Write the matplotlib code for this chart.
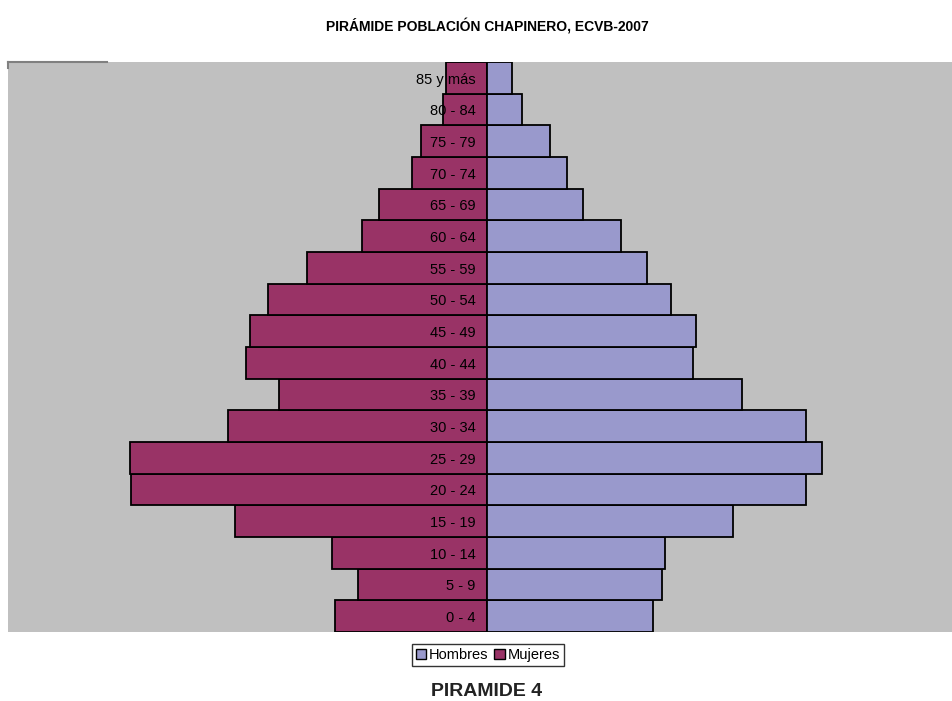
import numpy as np
import matplotlib.pyplot as plt
from matplotlib.patches import Patch

plt.rcParams['font.family'] = ['Liberation Sans', 'DejaVu Sans']

# Age groups, bottom to top
grupos = ['0 - 4', '5 - 9', '10 - 14', '15 - 19', '20 - 24', '25 - 29', '30 - 34',
          '35 - 39', '40 - 44', '45 - 49', '50 - 54', '55 - 59', '60 - 64',
          '65 - 69', '70 - 74', '75 - 79', '80 - 84', '85 y más']
mujeres = [3040, 2580, 3100, 5040, 7120, 7140, 5180, 4160, 4820, 4740,
           4380, 3600, 2500, 2160, 1500, 1320, 880, 820]
hombres = [3320, 3500, 3560, 4920, 6380, 6700, 6380, 5100, 4120, 4180,
           3680, 3200, 2680, 1920, 1600, 1260, 700, 500]

c_muj = '#993366'
c_hom = '#9999CC'

fig = plt.figure(figsize=(9.52, 7.01), dpi=100)
ax = fig.add_axes([8 / 952, 1 - 632 / 701, 1 - 8 / 952, (632 - 62) / 701])
ax.set_facecolor('#C0C0C0')

y = np.arange(len(grupos))
ax.barh(y, -np.array(mujeres), height=1.0, color=c_muj, edgecolor='black', linewidth=1.3)
ax.barh(y, hombres, height=1.0, color=c_hom, edgecolor='black', linewidth=1.3)

# Category labels drawn over the bars
for yi, g in zip(y, grupos):
    ax.text(-230, yi - 0.06, g, ha='right', va='center', fontsize=10.5, color='black')

ax.set_xlim(-9580, 9300)
ax.set_ylim(-0.5, len(grupos) - 0.5)
ax.set_xticks([])
ax.set_yticks([])
for s in ax.spines.values():
    s.set_visible(False)

# fragment of border at top-left
ax.plot([0, 0.105], [1, 1], transform=ax.transAxes, color='#808080', lw=1.5, clip_on=False)
ax.plot([0, 0], [1, 0.99], transform=ax.transAxes, color='#808080', lw=1.5, clip_on=False)

fig.text(487 / 952, 1 - 27 / 701, 'PIRÁMIDE POBLACIÓN CHAPINERO, ECVB-2007',
         ha='center', va='center', fontsize=10, fontweight='bold')

handles = [Patch(facecolor=c_hom, edgecolor='black'), Patch(facecolor=c_muj, edgecolor='black')]
leg = fig.legend(handles, ['Hombres', 'Mujeres'], loc='center',
                 bbox_to_anchor=(488 / 952, 1 - 655 / 701), ncol=2, fontsize=10.5,
                 handlelength=0.7, handleheight=0.7, handletextpad=0.2,
                 columnspacing=0.4, borderpad=0.25, fancybox=False, frameon=True)
leg.get_frame().set_edgecolor('black')
leg.get_frame().set_linewidth(1.0)

fig.text(487 / 952, 1 - 691 / 701, 'PIRAMIDE 4', ha='center', va='center',
         fontsize=14, fontweight='bold', color='#222222')

fig.savefig('out.png', dpi=100)
